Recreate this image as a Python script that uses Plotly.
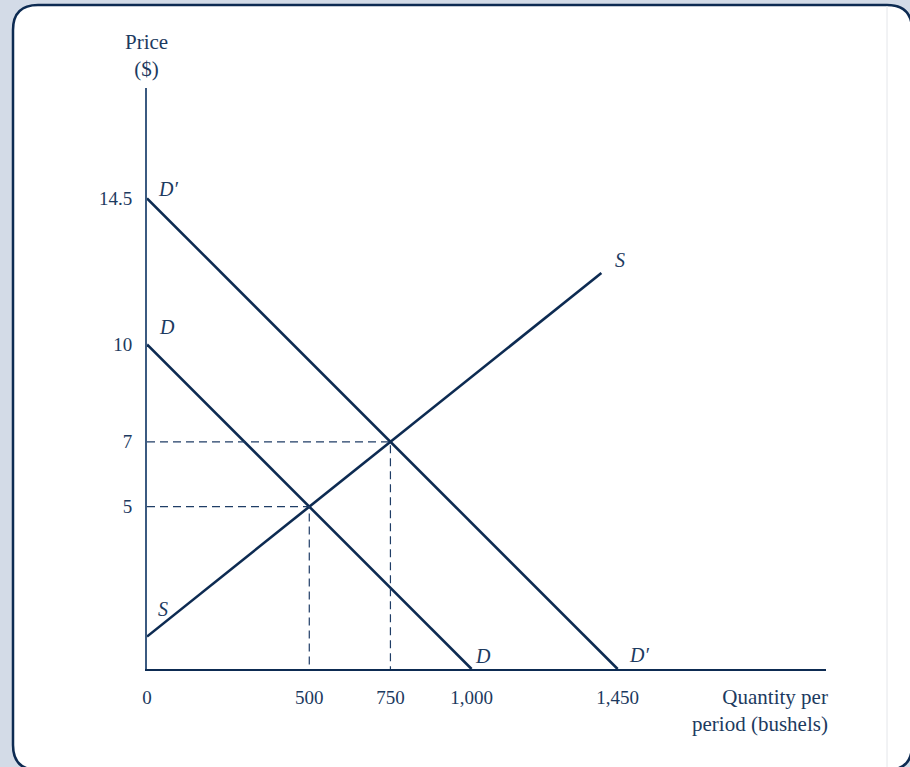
import plotly.graph_objects as go

# Data (economic units)
d_q = [0, 1000]
d_p = [10, 0]
d2_q = [0, 1450]
d2_p = [14.5, 0]
s_q = [0, 1400]
s_p = [1, 12.2]
eq_q = [500, 750]
eq_p = [5, 7]
x_ticks = [0, 500, 750, 1000, 1450]
x_tick_text = ["0", "500", "750", "1,000", "1,450"]
y_ticks = [5, 7, 10, 14.5]
y_tick_text = ["5", "7", "10", "14.5"]

NAVY = "#0d2b52"
TXT = "#1c3a60"
FONT = "Liberation Serif"

W, H = 910, 767
L, R, T, B = 147, 84, 88, 98
PW, PH = W - L - R, H - T - B

def px(x):
    return (x - L) / PW

def py(y):
    return (H - B - y) / PH

fig = go.Figure()

for q, p in [(d_q, d_p), (d2_q, d2_p), (s_q, s_p)]:
    fig.add_trace(go.Scatter(x=q, y=p, mode="lines",
                             line=dict(color=NAVY, width=2.6),
                             hoverinfo="skip", showlegend=False))

for q, p in zip(eq_q, eq_p):
    fig.add_trace(go.Scatter(x=[0, q, q], y=[p, p, 0], mode="lines",
                             line=dict(color="#1f3d66", width=1.2, dash="8px,5px"),
                             hoverinfo="skip", showlegend=False))

# curve labels: (text, x, y, left-edge shift px, centre up-shift px)
labels = [
    ("D\u2032", d2_q[0], d2_p[0], 10, 9),
    ("D", d_q[0], d_p[0], 11, 17),
    ("S", s_q[1], s_p[1], 13, 13),
    ("S", s_q[0], s_p[0], 10, 28),
    ("D", d_q[1], d_p[1], 2, 13),
    ("D\u2032", d2_q[1], d2_p[1], 10, 14),
]
for txt, x, y, dx, dy in labels:
    fig.add_annotation(x=x, y=y, text=txt, showarrow=False,
                       xanchor="left", yanchor="middle", xshift=dx - 1, yshift=dy,
                       font=dict(family=FONT, size=20, color=TXT, style="italic"))

# axis titles
fig.add_annotation(xref="paper", yref="paper", x=px(146), y=py(56), text="Price<br>($)",
                   showarrow=False, xanchor="center", yanchor="middle",
                   font=dict(family=FONT, size=21, color=TXT), align="center")
fig.add_annotation(xref="paper", yref="paper", x=px(830), y=py(710),
                   text="Quantity per<br>period (bushels)", showarrow=False,
                   xanchor="right", yanchor="middle",
                   font=dict(family=FONT, size=21, color=TXT), align="right")

# background panel (rounded rectangle)
x0, y0, x1, y1, r = 13, 5, 912, 770, 25
path = (f"M {px(x0)},{py(y0 + r)} Q {px(x0)},{py(y0)} {px(x0 + r)},{py(y0)} "
        f"L {px(x1 - r)},{py(y0)} Q {px(x1)},{py(y0)} {px(x1)},{py(y0 + r)} "
        f"L {px(x1)},{py(y1 - r)} Q {px(x1)},{py(y1)} {px(x1 - r)},{py(y1)} "
        f"L {px(x0 + r)},{py(y1)} Q {px(x0)},{py(y1)} {px(x0)},{py(y1 - r)} Z")
fig.add_shape(type="path", xref="paper", yref="paper", path=path,
              fillcolor="white", line=dict(color=NAVY, width=2.5), layer="below")
fig.add_shape(type="line", xref="paper", yref="paper", x0=px(887), x1=px(887),
              y0=py(6), y1=py(767), line=dict(color="#e4e6ea", width=1), layer="below")

fig.update_layout(
    width=W, height=H,
    margin=dict(l=L, r=R, t=T, b=B),
    paper_bgcolor="#d3dbe7",
    plot_bgcolor="rgba(0,0,0,0)",
    xaxis=dict(range=[0, 2092], tickvals=x_ticks, ticktext=x_tick_text,
               showgrid=False, zeroline=False, showline=True, linecolor=NAVY,
               linewidth=2, ticks="", ticklabelstandoff=10,
               tickfont=dict(family=FONT, size=19, color=TXT), fixedrange=True),
    yaxis=dict(range=[0, 17.9], tickvals=y_ticks, ticktext=y_tick_text,
               showgrid=False, zeroline=False, showline=True, linecolor="#3b5a80",
               linewidth=2, ticks="", ticklabelstandoff=9,
               tickfont=dict(family=FONT, size=19, color=TXT), fixedrange=True),
)

fig.write_html("out.html",
               config={"displayModeBar": False},
               post_script="document.body.style.margin='0';"
                           "document.body.style.overflow='hidden';"
                           "document.body.style.background='#d3dbe7';")
